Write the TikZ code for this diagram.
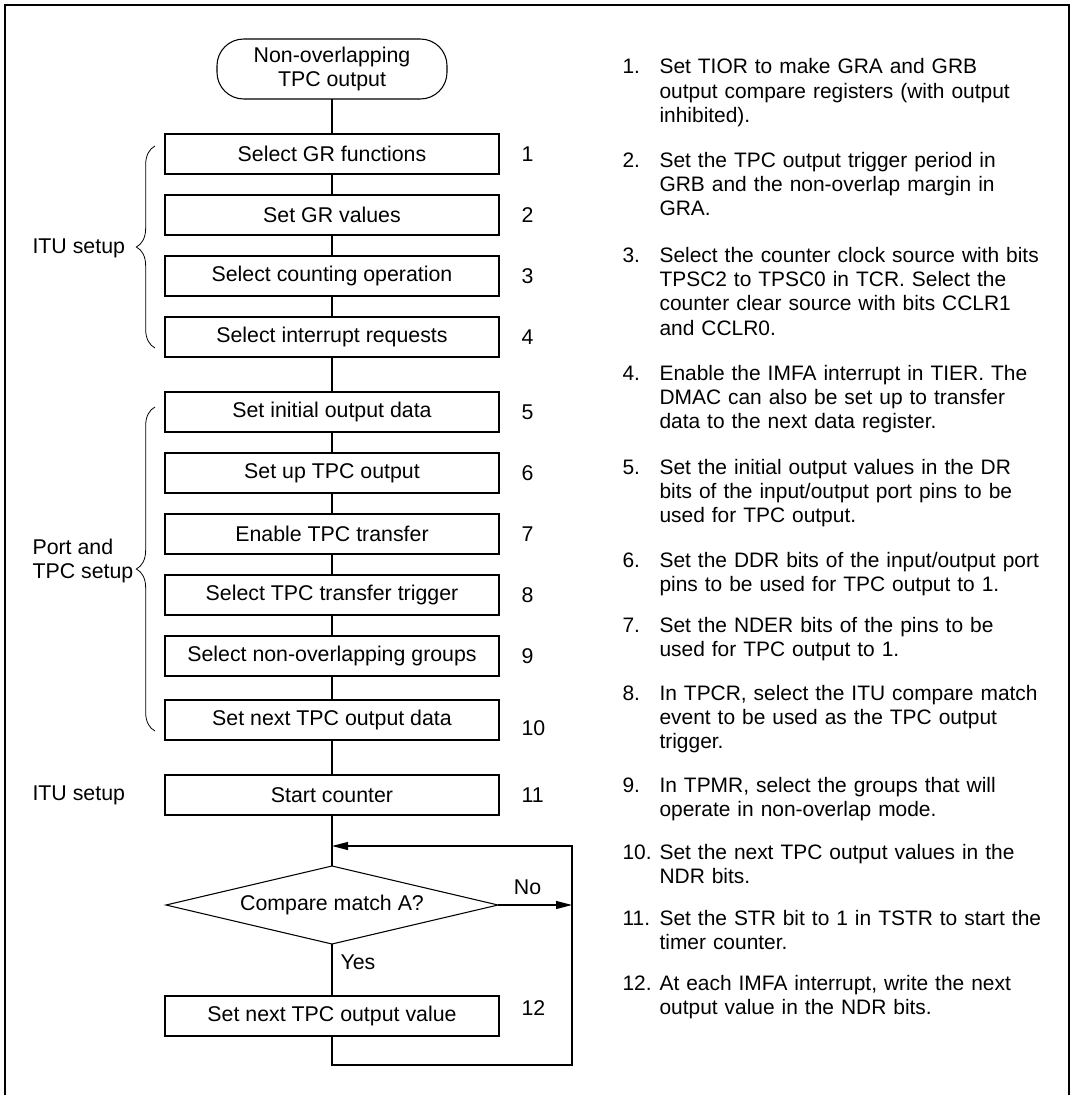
\documentclass[tikz,border=0pt]{standalone}
\usepackage{fontspec}
\setmainfont{Liberation Sans}
\usetikzlibrary{shapes.geometric, arrows.meta, positioning, calc,
  decorations.pathreplacing}
\newcommand{\stepnote}[3]{%
  \node[notenum] (num#2) at (622,#1) {#2.};
  \node[notetext] (note#2) at (659,#1) {#3};}

\begin{document}
\begin{tikzpicture}[x=0.75pt, y=-0.75pt,
  font=\fontsize{16}{18}\selectfont, line width=0.8pt,
  procbox/.style={draw, minimum width=250.5pt, minimum height=30pt,
    inner sep=0pt, outer sep=0pt, align=center},
  termbox/.style={draw, rounded corners=20pt, minimum width=172.5pt,
    minimum height=45pt, inner sep=0pt, outer sep=0pt, align=center},
  decision/.style={draw, diamond, aspect=4.3, minimum width=249pt,
    minimum height=58.5pt, inner sep=0pt, outer sep=0pt},
  stepnum/.style={inner sep=0pt},
  grouplabel/.style={inner sep=0pt, anchor=west, align=left},
  groupbrace/.style={decorate, decoration={brace, amplitude=14pt},
    line width=0.6pt},
  notenum/.style={inner sep=0pt, anchor=base west,
    font=\fontsize{15.7}{18.3}\selectfont},
  notetext/.style={inner sep=0pt, anchor=base west, text width=330pt,
    align=left, font=\fontsize{15.7}{18.3}\selectfont},
  flowarrow/.style={-{Triangle[length=12pt, width=6pt]}},
  node distance=15.75pt]

  \useasboundingbox (0,0) rectangle (1075,1095);
  \draw[line width=2.2pt] (5,1110) -- (5,5) -- (1069,5) -- (1069,1110);

  % flow chart
  \node[termbox] (start) at (332,69) {Non-overlapping\\TPC output};
  \node[procbox, below=26.25pt of start] (grfunc) {Select GR functions};
  \node[procbox, below=of grfunc] (grval) {Set GR values};
  \node[procbox, below=of grval] (cntop) {Select counting operation};
  \node[procbox, below=of cntop] (intreq) {Select interrupt requests};
  \node[procbox, below=26.25pt of intreq] (initdata) {Set initial output data};
  \node[procbox, below=of initdata] (tpcout) {Set up TPC output};
  \node[procbox, below=of tpcout] (tpcxfer) {Enable TPC transfer};
  \node[procbox, below=of tpcxfer] (trigger) {Select TPC transfer trigger};
  \node[procbox, below=of trigger] (groups) {Select non-overlapping groups};
  \node[procbox, below=18pt of groups] (nextdata) {Set next TPC output data};
  \node[procbox, below=26.25pt of nextdata] (startcnt) {Start counter};
  \node[decision, below=38.25pt of startcnt] (cmpA) {Compare match A?};
  \node[procbox, below=39pt of cmpA] (nextval) {Set next TPC output value};

  \draw (start) -- (grfunc) (grfunc) -- (grval) (grval) -- (cntop)
    (cntop) -- (intreq) (intreq) -- (initdata) (initdata) -- (tpcout)
    (tpcout) -- (tpcxfer) (tpcxfer) -- (trigger) (trigger) -- (groups)
    (groups) -- (nextdata) (nextdata) -- (startcnt) (startcnt) -- (cmpA);
  \draw (cmpA) -- (nextval) node[pos=0.35, right=6pt, inner sep=0pt] {Yes};

  % loop back
  \coordinate (merge) at ($(cmpA.north)+(0,-20)$);
  \coordinate (loopcorner) at ($(nextval.south)+(240,29)$);
  \draw[flowarrow] (nextval.south) |- (loopcorner) |- (merge);
  \draw[flowarrow] (cmpA.east) -- (cmpA.east -| loopcorner)
    node[pos=0.4, above=7.5pt, inner sep=0pt] {No};

  % step numbers
  \node[stepnum, right=16.5pt of grfunc] (s1) {1};
  \node[stepnum, right=16.5pt of grval] (s2) {2};
  \node[stepnum, right=16.5pt of cntop] (s3) {3};
  \node[stepnum, right=16.5pt of intreq] (s4) {4};
  \node[stepnum, right=16.5pt of initdata] (s5) {5};
  \node[stepnum, right=16.5pt of tpcout] (s6) {6};
  \node[stepnum, right=16.5pt of tpcxfer] (s7) {7};
  \node[stepnum, right=16.5pt of trigger] (s8) {8};
  \node[stepnum, right=16.5pt of groups] (s9) {9};
  \node[stepnum, right=16.5pt of nextdata, yshift=-6pt] (s10) {10};
  \node[stepnum, right=16.5pt of startcnt] (s11) {11};
  \node[stepnum, right=16.5pt of nextval, yshift=6pt] (s12) {12};

  % groups
  \node[grouplabel] (grpitu) at (32,248) {ITU setup};
  \node[grouplabel] (grpport) at (32,561) {Port and\\TPC setup};
  \node[grouplabel] (grpstart) at (32,795) {ITU setup};
  \draw[groupbrace] ($(intreq.south west)+(-10,-9)$) -- ($(grfunc.north west)+(-10,12)$);
  \draw[groupbrace] ($(nextdata.south west)+(-10,-9)$) -- ($(initdata.north west)+(-10,15)$);

  % notes
  \stepnote{74}{1}{Set TIOR to make GRA and GRB\\output compare registers (with output\\inhibited).}
  \stepnote{167}{2}{Set the TPC output trigger period in\\GRB and the non-overlap margin in\\GRA.}
  \stepnote{262}{3}{Select the counter clock source with bits\\TPSC2 to TPSC0 in TCR. Select the\\counter clear source with bits CCLR1\\and CCLR0.}
  \stepnote{380}{4}{Enable the IMFA interrupt in TIER. The\\DMAC can also be set up to transfer\\data to the next data register.}
  \stepnote{474}{5}{Set the initial output values in the DR\\bits of the input/output port pins to be\\used for TPC output.}
  \stepnote{567}{6}{Set the DDR bits of the input/output port\\pins to be used for TPC output to 1.}
  \stepnote{632}{7}{Set the NDER bits of the pins to be\\used for TPC output to 1.}
  \stepnote{700}{8}{In TPCR, select the ITU compare match\\event to be used as the TPC output\\trigger.}
  \stepnote{792}{9}{In TPMR, select the groups that will\\operate in non-overlap mode.}
  \stepnote{859}{10}{Set the next TPC output values in the\\NDR bits.}
  \stepnote{925}{11}{Set the STR bit to 1 in TSTR to start the\\timer counter.}
  \stepnote{990}{12}{At each IMFA interrupt, write the next\\output value in the NDR bits.}
\end{tikzpicture}
\end{document}
